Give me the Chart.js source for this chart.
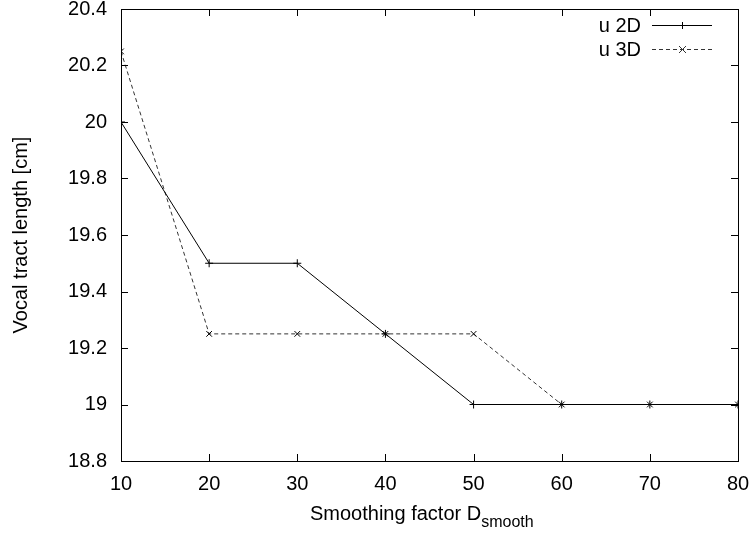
<!DOCTYPE html>
<html>
<head>
<meta charset="utf-8">
<script src="https://cdn.jsdelivr.net/npm/chart.js@4.4.1/dist/chart.umd.min.js"></script>
<style>
  html, body { margin: 0; padding: 0; background: #fff; }
  #wrap { width: 753px; height: 533px; }
</style>
</head>
<body>
<div id="wrap"><canvas id="c" width="753" height="533"></canvas></div>
<script>
// data
const xValues = [10, 20, 30, 40, 50, 60, 70, 80];
const u2D = [20, 19.5, 19.5, 19.25, 19, 19, 19, 19];
const u3D = [20.25, 19.25, 19.25, 19.25, 19.25, 19, 19, 19];
const seriesNames = ['u 2D', 'u 3D'];
const xTicks = [10, 20, 30, 40, 50, 60, 70, 80];
const yTicks = [18.8, 19, 19.2, 19.4, 19.6, 19.8, 20, 20.2, 20.4];

const FONT = 'Liberation Sans, Arial, Helvetica, sans-serif';
const FS = 20;

// gnuplot style: inward ticks on all four sides, titles and legend
const gnuplotDecor = {
    id: 'gnuplotDecor',
    afterDraw(chart) {
        const { ctx, chartArea: a, scales } = chart;
        const L = 7;
        ctx.save();
        ctx.strokeStyle = '#000';
        ctx.lineWidth = 1;
        ctx.beginPath();
        xTicks.forEach(v => {
            const px = Math.round(scales.x.getPixelForValue(v)) + 0.5;
            ctx.moveTo(px, a.bottom); ctx.lineTo(px, a.bottom - L);
            ctx.moveTo(px, a.top); ctx.lineTo(px, a.top + L);
        });
        yTicks.forEach(v => {
            const py = Math.round(scales.y.getPixelForValue(v)) + 0.5;
            ctx.moveTo(a.left, py); ctx.lineTo(a.left + L, py);
            ctx.moveTo(a.right, py); ctx.lineTo(a.right - L, py);
        });
        ctx.stroke();
        ctx.strokeRect(Math.round(a.left) + 0.5, Math.round(a.top) + 0.5,
            Math.round(a.right - a.left), Math.round(a.bottom - a.top));

        // y title
        ctx.fillStyle = '#000';
        ctx.font = FS + 'px ' + FONT;
        ctx.textAlign = 'center';
        ctx.textBaseline = 'middle';
        ctx.save();
        ctx.translate(21, (a.top + a.bottom) / 2);
        ctx.rotate(-Math.PI / 2);
        ctx.fillText('Vocal tract length [cm]', 0, 0);
        ctx.restore();

        // x title with subscript
        const main = 'Smoothing factor D';
        const sub = 'smooth';
        ctx.textBaseline = 'alphabetic';
        ctx.textAlign = 'left';
        ctx.font = FS + 'px ' + FONT;
        const wMain = ctx.measureText(main).width;
        const x0 = 310;
        ctx.fillText(main, x0, 520);
        ctx.font = '16px ' + FONT;
        ctx.fillText(sub, x0 + wMain, 527);

        // legend
        ctx.font = FS + 'px ' + FONT;
        ctx.textAlign = 'right';
        ctx.textBaseline = 'middle';
        chart.data.datasets.forEach((ds, i) => {
            const y = 25 + i * 24;
            ctx.fillStyle = '#000';
            ctx.fillText(ds.label, 641, y + 1);
            ctx.strokeStyle = ds.borderColor;
            ctx.setLineDash(ds.borderDash || []);
            ctx.beginPath();
            ctx.moveTo(652, y + 0.5); ctx.lineTo(712, y + 0.5);
            ctx.stroke();
            ctx.setLineDash([]);
            ctx.beginPath();
            const cx = 682.5, r = 3.5;
            if (ds.pointStyle === 'cross') {
                ctx.moveTo(cx - r, y + 0.5); ctx.lineTo(cx + r, y + 0.5);
                ctx.moveTo(cx, y + 0.5 - r); ctx.lineTo(cx, y + 0.5 + r);
            } else {
                ctx.moveTo(cx - r, y + 0.5 - r); ctx.lineTo(cx + r, y + 0.5 + r);
                ctx.moveTo(cx - r, y + 0.5 + r); ctx.lineTo(cx + r, y + 0.5 - r);
            }
            ctx.stroke();
        });
        ctx.restore();
    }
};

new Chart(document.getElementById('c'), {
    type: 'line',
    data: {
        datasets: [
            {
                label: seriesNames[0],
                data: xValues.map((x, i) => ({ x: x, y: u2D[i] })),
                borderColor: '#000',
                borderWidth: 1,
                pointStyle: 'cross',
                pointRadius: 4,
                pointBorderColor: '#000',
                pointBorderWidth: 1,
                fill: false,
                tension: 0
            },
            {
                label: seriesNames[1],
                data: xValues.map((x, i) => ({ x: x, y: u3D[i] })),
                borderColor: '#333',
                borderWidth: 1,
                borderDash: [4, 3],
                pointStyle: 'crossRot',
                pointRadius: 4,
                pointBorderColor: '#000',
                pointBorderWidth: 1,
                fill: false,
                tension: 0
            }
        ]
    },
    options: {
        responsive: false,
        animation: false,
        layout: { padding: { top: 9, right: 15, left: 0, bottom: 0 } },
        plugins: {
            legend: { display: false },
            tooltip: { enabled: false }
        },
        scales: {
            x: {
                type: 'linear',
                min: 10,
                max: 80,
                afterBuildTicks: s => { s.ticks = xTicks.map(v => ({ value: v })); },
                afterFit: s => { s.height = 72; s.paddingLeft = 0; s.paddingRight = 0; },
                grid: { display: false, drawTicks: false },
                border: { display: false },
                ticks: {
                    color: '#000',
                    padding: 11,
                    font: { family: FONT, size: FS }
                }
            },
            y: {
                type: 'linear',
                min: 18.8,
                max: 20.4,
                afterBuildTicks: s => { s.ticks = yTicks.map(v => ({ value: v })); },
                afterFit: s => { s.width = 121; s.paddingTop = 0; s.paddingBottom = 0; },
                grid: { display: false, drawTicks: false },
                border: { display: false },
                ticks: {
                    color: '#000',
                    padding: 14,
                    font: { family: FONT, size: FS },
                    callback: v => String(parseFloat(v.toFixed(1)))
                }
            }
        }
    },
    plugins: [gnuplotDecor]
});
</script>
</body>
</html>
